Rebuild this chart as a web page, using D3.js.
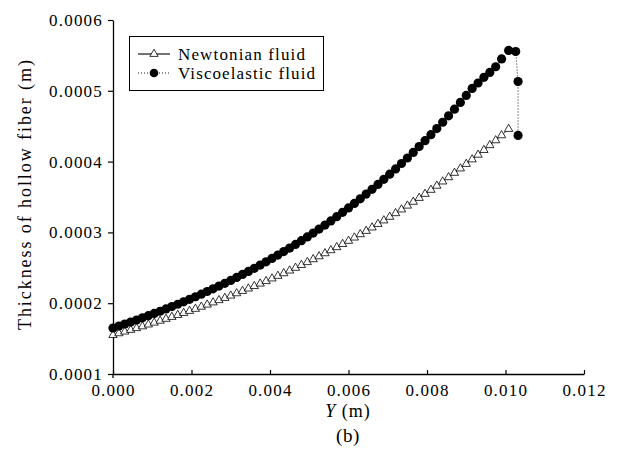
<!DOCTYPE html>
<html><head><meta charset="utf-8">
<script src="https://cdn.jsdelivr.net/npm/d3@7"></script>
<style>
html,body{margin:0;padding:0;background:#fff;}
svg{display:block;}
text{font-family:"Liberation Serif","Times New Roman",serif;fill:#000;}
</style></head>
<body><svg id="c" width="635" height="460"></svg>
<script>
// ---- data (metres) ----
const seriesNames = ["Newtonian fluid", "Viscoelastic fluid"];
const positionNewtonian = [0,0.00015,0.0003,0.00045,0.0006,0.00075,0.0009,0.00105,0.0012,0.00135,0.0015,0.00165,0.0018,0.00195,0.0021,0.00225,0.0024,0.00255,0.0027,0.00285,0.003,0.00315,0.0033,0.00345,0.0036,0.00375,0.0039,0.00405,0.0042,0.00435,0.0045,0.00465,0.0048,0.00495,0.0051,0.00525,0.0054,0.00555,0.0057,0.00585,0.006,0.00615,0.0063,0.00645,0.0066,0.00675,0.0069,0.00705,0.0072,0.00735,0.0075,0.00765,0.0078,0.00795,0.0081,0.00825,0.0084,0.00855,0.0087,0.00885,0.009,0.00915,0.0093,0.00945,0.0096,0.00975,0.0099,0.01008];
const thicknessNewtonian = [1.550e-4,1.574e-4,1.598e-4,1.622e-4,1.647e-4,1.672e-4,1.698e-4,1.724e-4,1.751e-4,1.778e-4,1.805e-4,1.833e-4,1.861e-4,1.890e-4,1.919e-4,1.949e-4,1.979e-4,2.010e-4,2.042e-4,2.073e-4,2.106e-4,2.139e-4,2.172e-4,2.206e-4,2.241e-4,2.276e-4,2.311e-4,2.348e-4,2.385e-4,2.422e-4,2.460e-4,2.499e-4,2.539e-4,2.579e-4,2.620e-4,2.661e-4,2.704e-4,2.747e-4,2.790e-4,2.835e-4,2.880e-4,2.926e-4,2.973e-4,3.020e-4,3.068e-4,3.118e-4,3.168e-4,3.219e-4,3.270e-4,3.323e-4,3.377e-4,3.431e-4,3.486e-4,3.543e-4,3.600e-4,3.658e-4,3.718e-4,3.778e-4,3.840e-4,3.902e-4,3.966e-4,4.030e-4,4.096e-4,4.163e-4,4.231e-4,4.300e-4,4.371e-4,4.460e-4];
const positionViscoelastic = [0,0.00015,0.0003,0.00045,0.0006,0.00075,0.0009,0.00105,0.0012,0.00135,0.0015,0.00165,0.0018,0.00195,0.0021,0.00225,0.0024,0.00255,0.0027,0.00285,0.003,0.00315,0.0033,0.00345,0.0036,0.00375,0.0039,0.00405,0.0042,0.00435,0.0045,0.00465,0.0048,0.00495,0.0051,0.00525,0.0054,0.00555,0.0057,0.00585,0.006,0.00615,0.0063,0.00645,0.0066,0.00675,0.0069,0.00705,0.0072,0.00735,0.0075,0.00765,0.0078,0.00795,0.0081,0.00825,0.0084,0.00855,0.0087,0.00885,0.009,0.00915,0.0093,0.00945,0.0096,0.00975,0.0099,0.01008,0.01026,0.01032,0.01032];
const thicknessViscoelastic = [1.650e-4,1.678e-4,1.706e-4,1.734e-4,1.763e-4,1.793e-4,1.824e-4,1.855e-4,1.886e-4,1.919e-4,1.952e-4,1.985e-4,2.020e-4,2.055e-4,2.091e-4,2.127e-4,2.165e-4,2.203e-4,2.242e-4,2.281e-4,2.322e-4,2.364e-4,2.406e-4,2.449e-4,2.493e-4,2.538e-4,2.585e-4,2.632e-4,2.680e-4,2.729e-4,2.779e-4,2.830e-4,2.883e-4,2.936e-4,2.991e-4,3.047e-4,3.104e-4,3.162e-4,3.222e-4,3.283e-4,3.345e-4,3.409e-4,3.474e-4,3.541e-4,3.609e-4,3.678e-4,3.750e-4,3.822e-4,3.897e-4,3.973e-4,4.051e-4,4.130e-4,4.212e-4,4.295e-4,4.380e-4,4.467e-4,4.556e-4,4.647e-4,4.741e-4,4.836e-4,4.934e-4,5.033e-4,5.110e-4,5.190e-4,5.260e-4,5.340e-4,5.450e-4,5.570e-4,5.555e-4,5.130e-4,4.370e-4];
const xTicks = [0,0.002,0.004,0.006,0.008,0.010,0.012];
const yTicks = [0.0001,0.0002,0.0003,0.0004,0.0005,0.0006];
const xTitleVar = "Y";
const xTitleUnit = "(m)";
const yTitle = "Thickness of hollow fiber (m)";
const caption = "(b)";

// ---- layout ----
const svg = d3.select("#c");
const L = 113, R = 584, T = 20, B = 374;
const x = d3.scaleLinear().domain([0, 0.012]).range([L, R]);
const y = d3.scaleLinear().domain([0.0001, 0.0006]).range([B, T]);

const newt = positionNewtonian.map((p,i)=>({x:p, y:thicknessNewtonian[i]}));
const visc = positionViscoelastic.map((p,i)=>({x:p, y:thicknessViscoelastic[i]}));
const line = d3.line().x(d=>x(d.x)).y(d=>y(d.y));

// axes
const gx = svg.append("g").attr("transform",`translate(0,${B})`)
  .call(d3.axisBottom(x).tickValues(xTicks).tickFormat(d3.format(".3f")).tickSizeInner(-4).tickSizeOuter(0).tickPadding(10));
const gy = svg.append("g").attr("transform",`translate(${L},0)`)
  .call(d3.axisLeft(y).tickValues(yTicks).tickFormat(d3.format(".4f")).tickSizeInner(5).tickSizeOuter(0).tickPadding(6));
[gx,gy].forEach(g=>{
  g.attr("font-family",null).attr("font-size",null);
  g.select(".domain").attr("stroke","#000").attr("stroke-width",1.3);
  g.selectAll(".tick line").attr("stroke","#000").attr("stroke-width",1.2);
  g.selectAll(".tick text").attr("font-size",17).attr("letter-spacing","1.2px").attr("fill","#000");
});
gy.selectAll(".tick text").attr("dx","1px");
// extend y axis slightly below x axis
svg.append("line").attr("x1",L).attr("x2",L).attr("y1",B).attr("y2",B+4).attr("stroke","#000").attr("stroke-width",1.3);

// series lines
svg.append("path").datum(newt).attr("d",line).attr("fill","none").attr("stroke","#000").attr("stroke-width",0.8);
svg.append("path").datum(visc).attr("d",line).attr("fill","none").attr("stroke","#000").attr("stroke-width",0.9).attr("stroke-dasharray","1,2");

// markers
const tri = d3.symbol().type(d3.symbolTriangle).size(30);
svg.append("g").selectAll("path").data(newt).join("path")
  .attr("d",tri).attr("transform",d=>`translate(${x(d.x)},${y(d.y)})`)
  .attr("fill","#fff").attr("stroke","#000").attr("stroke-width",0.8);
svg.append("g").selectAll("circle").data(visc).join("circle")
  .attr("cx",d=>x(d.x)).attr("cy",d=>y(d.y)).attr("r",4.6).attr("fill","#000");

// axis titles
svg.append("text").attr("x",348).attr("y",417).attr("text-anchor","middle").attr("font-size",18).attr("letter-spacing","1px")
  .html(`<tspan font-style="italic">${xTitleVar}</tspan> ${xTitleUnit}`);
svg.append("text").attr("x",348).attr("y",442).attr("text-anchor","middle").attr("font-size",19).attr("letter-spacing","0.6px").text(caption);
svg.append("text").attr("transform","translate(31,195) rotate(-90)").attr("text-anchor","middle").attr("font-size",18)
  .attr("textLength",270).attr("lengthAdjust","spacing").text(yTitle);

// legend
const lg = svg.append("g");
lg.append("rect").attr("x",129.5).attr("y",36.5).attr("width",194).attr("height",54).attr("fill","#fff").attr("stroke","#000").attr("stroke-width",1);
const rows = [{name:seriesNames[0], yy:54, kind:"tri", w:127},{name:seriesNames[1], yy:73, kind:"dot", w:137}];
rows.forEach(r=>{
  lg.append("line").attr("x1",138).attr("x2",170).attr("y1",r.yy).attr("y2",r.yy).attr("stroke","#000")
    .attr("stroke-width", r.kind==="tri"?1.1:0.9).attr("stroke-dasharray", r.kind==="tri"?null:"1,2");
  if(r.kind==="tri") lg.append("path").attr("d",tri).attr("transform",`translate(154,${r.yy})`).attr("fill","#fff").attr("stroke","#000").attr("stroke-width",0.8);
  else lg.append("circle").attr("cx",154).attr("cy",r.yy).attr("r",4.3).attr("fill","#000");
  lg.append("text").attr("x",178).attr("y",r.yy).attr("dy","0.33em").attr("font-size",17)
    .attr("textLength",r.w).attr("lengthAdjust","spacing").text(r.name);
});
</script></body></html>
